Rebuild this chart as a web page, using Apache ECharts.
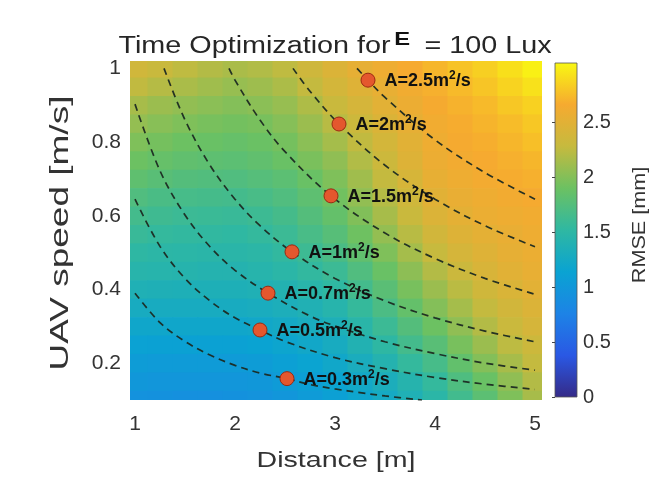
<!DOCTYPE html>
<html><head><meta charset="utf-8">
<script src="https://cdn.jsdelivr.net/npm/echarts@6/dist/echarts.min.js"></script>
<style>html,body{margin:0;padding:0;background:#fff}#c{width:667px;height:477px}</style>
</head><body><div id="c"></div>
<script>
// ---- data ----
const distances = [1.0, 1.25, 1.5, 1.75, 2.0, 2.25, 2.5, 2.75, 3.0, 3.25, 3.5, 3.75, 4.0, 4.25, 4.5, 4.75, 5.0];
const speeds = [1.0, 0.95, 0.9, 0.85, 0.8, 0.75, 0.7, 0.65, 0.6, 0.55, 0.5, 0.45, 0.4, 0.35, 0.3, 0.25, 0.2, 0.15, 0.1];
// RMSE [mm], one row per speed (top to bottom), one column per distance
const rmse = [
  [2.36, 2.30, 2.25, 2.20, 2.16, 2.19, 2.25, 2.34, 2.45, 2.53, 2.60, 2.66, 2.72, 2.78, 2.84, 2.92, 3.00],
  [2.26, 2.21, 2.16, 2.12, 2.08, 2.11, 2.17, 2.27, 2.38, 2.47, 2.55, 2.62, 2.69, 2.74, 2.79, 2.86, 2.93],
  [2.15, 2.10, 2.06, 2.03, 2.00, 2.03, 2.08, 2.18, 2.30, 2.40, 2.50, 2.58, 2.65, 2.70, 2.74, 2.80, 2.85],
  [2.07, 2.02, 1.98, 1.95, 1.93, 1.95, 2.01, 2.10, 2.22, 2.33, 2.44, 2.53, 2.62, 2.67, 2.71, 2.75, 2.80],
  [1.98, 1.94, 1.90, 1.88, 1.86, 1.89, 1.94, 2.03, 2.14, 2.26, 2.38, 2.49, 2.60, 2.65, 2.68, 2.72, 2.76],
  [1.90, 1.86, 1.83, 1.81, 1.80, 1.83, 1.88, 1.96, 2.05, 2.19, 2.33, 2.46, 2.58, 2.63, 2.66, 2.69, 2.72],
  [1.82, 1.78, 1.75, 1.74, 1.73, 1.76, 1.80, 1.88, 1.98, 2.12, 2.27, 2.41, 2.54, 2.60, 2.64, 2.67, 2.69],
  [1.73, 1.69, 1.67, 1.66, 1.65, 1.68, 1.73, 1.81, 1.92, 2.06, 2.21, 2.35, 2.49, 2.56, 2.60, 2.63, 2.65],
  [1.65, 1.62, 1.60, 1.59, 1.58, 1.61, 1.66, 1.75, 1.85, 1.99, 2.15, 2.30, 2.45, 2.52, 2.57, 2.60, 2.62],
  [1.58, 1.55, 1.54, 1.53, 1.52, 1.55, 1.60, 1.68, 1.77, 1.91, 2.07, 2.22, 2.37, 2.46, 2.52, 2.56, 2.60],
  [1.51, 1.49, 1.48, 1.47, 1.47, 1.49, 1.54, 1.61, 1.69, 1.83, 1.98, 2.14, 2.29, 2.40, 2.47, 2.53, 2.57],
  [1.45, 1.44, 1.43, 1.42, 1.42, 1.44, 1.48, 1.54, 1.60, 1.73, 1.88, 2.04, 2.20, 2.32, 2.42, 2.49, 2.55],
  [1.37, 1.36, 1.35, 1.35, 1.35, 1.37, 1.40, 1.46, 1.52, 1.65, 1.79, 1.95, 2.10, 2.23, 2.35, 2.43, 2.50],
  [1.28, 1.28, 1.28, 1.28, 1.28, 1.30, 1.33, 1.38, 1.44, 1.56, 1.70, 1.85, 2.00, 2.14, 2.27, 2.37, 2.45],
  [1.20, 1.20, 1.20, 1.20, 1.20, 1.22, 1.25, 1.30, 1.35, 1.47, 1.60, 1.75, 1.90, 2.05, 2.20, 2.31, 2.40],
  [1.13, 1.12, 1.12, 1.12, 1.12, 1.14, 1.17, 1.22, 1.28, 1.39, 1.51, 1.65, 1.78, 1.95, 2.10, 2.24, 2.33],
  [1.06, 1.05, 1.04, 1.04, 1.04, 1.06, 1.10, 1.15, 1.21, 1.31, 1.42, 1.55, 1.67, 1.84, 2.00, 2.15, 2.27],
  [1.00, 0.99, 0.98, 0.98, 0.98, 1.00, 1.04, 1.09, 1.15, 1.23, 1.32, 1.43, 1.55, 1.72, 1.88, 2.05, 2.20],
  [0.94, 0.93, 0.92, 0.92, 0.93, 0.95, 0.98, 1.04, 1.10, 1.18, 1.26, 1.37, 1.48, 1.64, 1.80, 1.98, 2.15]
];
// constant-coverage-rate curves (distance, speed)
const curveA03 = [[1.0,0.39],[1.25,0.31],[1.5,0.259],[1.75,0.222],[2.0,0.194],[2.25,0.173],[2.52,0.158],[2.75,0.142],[3.0,0.13],[3.25,0.12],[3.5,0.111],[3.87,0.1]];
const curveA05 = [[1.0,0.645],[1.25,0.517],[1.5,0.43],[1.75,0.369],[2.0,0.323],[2.25,0.29],[2.5,0.259],[3.0,0.215],[3.5,0.185],[4.0,0.161],[4.5,0.143],[5.0,0.129]];
const curveA07 = [[1.0,0.903],[1.25,0.722],[1.5,0.602],[1.75,0.516],[2.0,0.452],[2.33,0.39],[2.75,0.328],[3.0,0.301],[3.5,0.258],[4.0,0.226],[4.5,0.2],[5.0,0.181]];
const curveA1 = [[1.29,1.0],[1.5,0.86],[1.75,0.737],[2.0,0.645],[2.25,0.573],[2.57,0.502],[3.0,0.43],[3.5,0.369],[4.0,0.323],[4.5,0.287],[5.0,0.258]];
const curveA15 = [[1.94,1.0],[2.0,0.968],[2.25,0.86],[2.5,0.774],[2.96,0.654],[3.5,0.553],[4.0,0.484],[4.5,0.43],[5.0,0.387]];
const curveA2 = [[2.58,1.0],[2.75,0.938],[3.04,0.849],[3.5,0.737],[4.0,0.645],[4.5,0.573],[5.0,0.516]];
const curveA25 = [[3.22,1.0],[3.33,0.968],[3.5,0.921],[4.0,0.806],[4.5,0.717],[5.0,0.645]];
// optimum points
const markerA = ['2.5', '2', '1.5', '1', '0.7', '0.5', '0.3'];
const markerDistance = [3.33, 3.04, 2.96, 2.57, 2.33, 2.25, 2.52];
const markerSpeed = [0.968, 0.849, 0.654, 0.502, 0.39, 0.29, 0.158];
// ticks
const xTicks = [1, 2, 3, 4, 5];
const yTicks = [0.2, 0.4, 0.6, 0.8, 1];
const cbTicks = [0, 0.5, 1, 1.5, 2, 2.5];
const cbMin = 0, cbMax = 3.04;

// ---- styles ----
const FF = '"Liberation Sans", Arial, Helvetica, sans-serif';
const parula = ['#352a87', '#2a58e4', '#1d83e6', '#0aa3d2', '#2fb8a2', '#6cc162', '#c6ba3e', '#f6aa30', '#f9f812'];
const TXT = '#333333';

const heatData = [];
speeds.forEach((v, i) => distances.forEach((d, j) => heatData.push([d, v, rmse[i][j]])));
const stepD = distances[1] - distances[0];
const stepV = speeds[0] - speeds[1];

const curves = [curveA03, curveA05, curveA07, curveA1, curveA15, curveA2, curveA25];
const lineSeries = curves.map(c => ({
  type: 'line', data: c, smooth: 0.35, showSymbol: false, symbol: 'none', silent: true, z: 3,
  xAxisIndex: 0, yAxisIndex: 0, clip: true,
  lineStyle: { color: '#1c2a22', width: 1.7, type: [7, 5], opacity: 0.95 }
}));

const markerData = markerA.map((a, i) => [markerDistance[i], markerSpeed[i], a]);

const chart = echarts.init(document.getElementById('c'), null, { renderer: 'canvas' });
chart.setOption({
  backgroundColor: '#ffffff',
  animation: false,
  grid: [
    { left: 130, right: 125, top: 61, bottom: 77, outerBoundsMode: 'none', containLabel: false },
    { left: 555, width: 22, top: 63, height: 334, outerBoundsMode: 'none', containLabel: false }
  ],
  xAxis: [
    { type: 'value', gridIndex: 0, min: 0.95, max: 5.07,
      axisLine: { show: false }, axisTick: { show: false }, splitLine: { show: false },
      axisLabel: { customValues: xTicks, fontSize: 21, color: TXT, fontFamily: FF, margin: 14 } },
    { type: 'value', gridIndex: 1, min: 0, max: 1, show: false }
  ],
  yAxis: [
    { type: 'value', gridIndex: 0, min: 0.1, max: 1.02,
      axisLine: { show: false }, axisTick: { show: false }, splitLine: { show: false },
      axisLabel: { customValues: yTicks, fontSize: 21, color: TXT, fontFamily: FF, margin: 9 } },
    { type: 'value', gridIndex: 1, min: cbMin, max: cbMax, position: 'right',
      axisLine: { show: false }, splitLine: { show: false },
      axisTick: { show: true, inside: true, length: 3, customValues: cbTicks, lineStyle: { color: '#444' } },
      axisLabel: { customValues: cbTicks, fontSize: 20, color: TXT, fontFamily: FF, margin: 6 } }
  ],
  visualMap: {
    type: 'continuous', show: false, min: cbMin, max: cbMax, dimension: 2, seriesIndex: 0,
    inRange: { color: parula }
  },
  graphic: [
    { type: 'rect', x: 555, y: 63, z: -1, shape: { width: 22, height: 334 },
      style: { stroke: '#555', lineWidth: 0.8,
        fill: { type: 'linear', x: 0, y: 1, x2: 0, y2: 0,
          colorStops: parula.map((c, i) => ({ offset: i / (parula.length - 1), color: c })) } } },
    { type: 'text', x: 335, y: 44, scaleX: 1.25, z: 10,
      style: { text: '{a|Time Optimization for}{e|E}{a| = 100 Lux}', align: 'center', verticalAlign: 'middle',
        rich: {
          a: { fontSize: 23, fontFamily: FF, fill: '#262626', lineHeight: 28, verticalAlign: 'bottom' },
          e: { fontSize: 19, fontFamily: FF, fontWeight: 'bold', fill: '#111', lineHeight: 21, verticalAlign: 'top', padding: [0, 5, 0, 3] }
        } } },
    { type: 'text', x: 336, y: 461, scaleX: 1.3, z: 10,
      style: { text: 'Distance [m]', fontSize: 22, fontFamily: FF, fill: TXT, align: 'center', verticalAlign: 'middle' } },
    { type: 'text', x: 61, y: 233, rotation: Math.PI / 2, scaleX: 1.48, z: 10,
      style: { text: 'UAV speed [m/s]', fontSize: 25, fontFamily: FF, fill: TXT, align: 'center', verticalAlign: 'middle' } },
    { type: 'text', x: 640, y: 225, rotation: Math.PI / 2, scaleX: 1.2, z: 10,
      style: { text: 'RMSE [mm]', fontSize: 18, fontFamily: FF, fill: TXT, align: 'center', verticalAlign: 'middle' } }
  ],
  series: [
    { type: 'custom', coordinateSystem: 'cartesian2d', xAxisIndex: 0, yAxisIndex: 0, clip: true, silent: true, z: 1,
      encode: { x: 0, y: 1 }, data: heatData,
      renderItem: function (params, api) {
        const d = api.value(0), v = api.value(1);
        const a = api.coord([d - stepD / 2, v + stepV / 2]);
        const b = api.coord([d + stepD / 2, v - stepV / 2]);
        return { type: 'rect', shape: { x: a[0], y: a[1], width: b[0] - a[0] + 0.7, height: b[1] - a[1] + 0.7 },
          style: { fill: api.visual('color') } };
      } },
    ...lineSeries,
    { type: 'scatter', data: markerData, xAxisIndex: 0, yAxisIndex: 0, z: 5, silent: true,
      symbol: 'circle', symbolSize: 14,
      itemStyle: { color: '#e4572e', borderColor: '#9b2a12', borderWidth: 1, opacity: 1 },
      label: { show: true, position: 'right', distance: 9, opacity: 1,
        formatter: p => '{n|A=' + p.value[2] + 'm}{s|2}{n|/s}',
        rich: {
          n: { fontSize: 18, fontWeight: 'bold', fontFamily: FF, color: '#111111', lineHeight: 20, verticalAlign: 'bottom' },
          s: { fontSize: 12, fontWeight: 'bold', fontFamily: FF, color: '#111111', lineHeight: 12, verticalAlign: 'top' }
        } } }
  ]
});
</script>
</body></html>
